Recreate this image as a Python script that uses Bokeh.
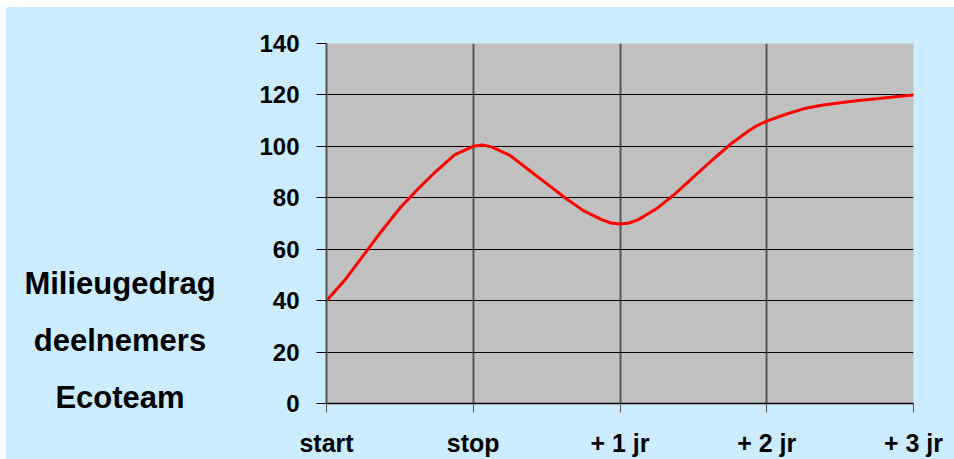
from bokeh.plotting import figure
from bokeh.models import FixedTicker, Range1d, Div, Spacer
from bokeh.layouts import row, column
from bokeh.embed import file_html
from bokeh.resources import INLINE

# category tick labels (positions 0..4)
categories = ["start", "stop", "+ 1 jr", "+ 2 jr", "+ 3 jr"]

# curve (x in category units, y = Milieugedrag)
curve_x = [0.0, 0.125, 0.25, 0.375, 0.5, 0.625, 0.75, 0.875, 1.0, 1.0625,
           1.125, 1.25, 1.375, 1.5, 1.625, 1.75, 1.875, 1.9375, 2.0, 2.0625,
           2.125, 2.25, 2.375, 2.5, 2.625, 2.75, 2.875, 2.9375, 3.0, 3.125,
           3.25, 3.375, 3.5, 3.625, 3.75, 3.875, 4.0]
curve_y = [40, 48, 57.5, 67, 76, 83.5, 90.5, 96.8, 100, 100.5,
           99.8, 96.5, 91, 85.5, 80, 75, 71.5, 70.2, 69.8, 70.2,
           71.5, 75.8, 81.5, 88, 94.5, 100.7, 106, 108.2, 109.8, 112.4,
           114.6, 116, 117, 117.8, 118.5, 119.3, 120]

y_ticks = [0, 20, 40, 60, 80, 100, 120, 140]
side_title = ["Milieugedrag", "deelnemers", "Ecoteam"]

FONT = "Liberation Sans"
BG = "#CCECFF"

p = figure(width=708, height=452, output_backend="svg", toolbar_location=None,
           x_range=Range1d(0, 4), y_range=Range1d(0, 140),
           min_border_left=80, min_border_right=41,
           min_border_top=36, min_border_bottom=54)

p.background_fill_color = "#C0C0C0"
p.border_fill_color = BG
p.outline_line_color = None

p.line(curve_x, curve_y, line_color="#FF0000", line_width=3)

# axes
p.xaxis.ticker = FixedTicker(ticks=list(range(len(categories))))
p.xaxis.major_label_overrides = {i: c for i, c in enumerate(categories)}
p.yaxis.ticker = FixedTicker(ticks=y_ticks)

for ax in (p.xaxis[0], p.yaxis[0]):
    ax.major_label_text_font = FONT
    ax.major_label_text_font_style = "bold"
    ax.major_label_text_color = "black"
    ax.minor_tick_line_color = None
    ax.major_tick_in = 0

p.xaxis.major_label_text_font_size = "25px"
p.yaxis.major_label_text_font_size = "24px"

p.yaxis.axis_line_color = "#555555"
p.yaxis.axis_line_width = 2
p.yaxis.major_tick_line_color = "black"
p.yaxis.major_tick_out = 10
p.yaxis.major_label_standoff = 17

p.xaxis.axis_line_color = "black"
p.xaxis.axis_line_width = 1.5
p.xaxis.major_tick_line_color = "#555555"
p.xaxis.major_tick_out = 9
p.xaxis.major_label_standoff = 16

# grids
p.ygrid.grid_line_color = "black"
p.ygrid.grid_line_width = 1
p.xgrid.grid_line_color = "#555555"
p.xgrid.grid_line_width = 2

# side title, three lines
title_html = (
    "<div style=\"margin:0;padding:248px 6px 0 0;width:234px;text-align:center;"
    "font-family:'Liberation Sans';font-weight:bold;font-size:31px;"
    "line-height:57px;color:black;\">"
    + "<br>".join(side_title) + "</div>"
)
side = Div(text=title_html, width=240, height=452,
           styles={"background-color": BG, "margin": "0", "padding": "0"})

layout = column(
    Spacer(width=954, height=7),
    row(Spacer(width=6, height=452), side, p, spacing=0,
        styles={"background-color": BG}),
    spacing=0,
)
layout.children[1].children[0].styles = {"background-color": "white"}

open("out.html", "w").write(file_html(layout, INLINE))
